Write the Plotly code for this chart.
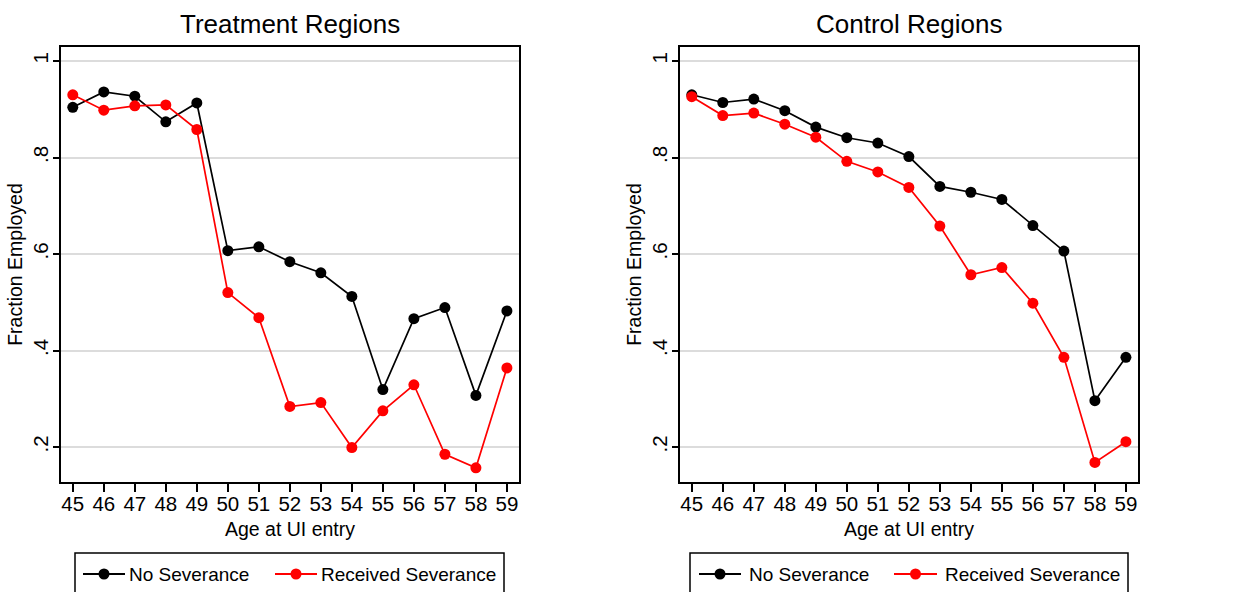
import plotly.graph_objects as go

# ---------------- data ----------------
ages = [45, 46, 47, 48, 49, 50, 51, 52, 53, 54, 55, 56, 57, 58, 59]
panel_titles = ["Treatment Regions", "Control Regions"]
series_names = ["No Severance", "Received Severance"]

treat_no_sev = [0.904, 0.936, 0.927, 0.874, 0.913, 0.607, 0.615, 0.584, 0.561, 0.512,
                0.319, 0.466, 0.489, 0.307, 0.482]
treat_sev = [0.930, 0.898, 0.907, 0.909, 0.858, 0.520, 0.468, 0.284, 0.292, 0.199,
             0.275, 0.329, 0.185, 0.157, 0.364]
ctrl_no_sev = [0.930, 0.914, 0.921, 0.897, 0.863, 0.841, 0.830, 0.802, 0.740, 0.728,
               0.713, 0.659, 0.606, 0.296, 0.386]
ctrl_sev = [0.926, 0.887, 0.892, 0.869, 0.842, 0.792, 0.770, 0.738, 0.658, 0.557,
            0.572, 0.498, 0.386, 0.168, 0.211]

y_tickvals = [0.2, 0.4, 0.6, 0.8, 1.0]
y_ticktext = [".2", ".4", ".6", ".8", "1"]
x_title = "Age at UI entry"
y_title = "Fraction Employed"

colors = ["#000000", "#ff0000"]

# ---------------- figure ----------------
W, H = 1241, 592
FONT = "Liberation Sans, Arial, Helvetica, sans-serif"
TICK_SIZE = 20.5
LABEL_SIZE = 19.5
LEGEND_SIZE = 19
TITLE_SIZE = 26

fig = go.Figure()

panels = [
    (treat_no_sev, treat_sev, "x", "y"),
    (ctrl_no_sev, ctrl_sev, "x2", "y2"),
]
for (s1, s2, xa, ya) in panels:
    for vals, name, col in [(s1, series_names[0], colors[0]), (s2, series_names[1], colors[1])]:
        fig.add_trace(go.Scatter(
            x=ages, y=vals, name=name, mode="lines+markers",
            line=dict(color=col, width=1.7),
            marker=dict(color=col, size=11),
            xaxis=xa, yaxis=ya, showlegend=False,
        ))


def px_x(p):
    return p / W


def px_y(p):
    return 1 - p / H


dom_x = [[px_x(61), px_x(519)], [px_x(680), px_x(1138)]]
dom_y = [px_y(482), px_y(47)]

axis_common_x = dict(
    range=[44.62, 59.39], tickmode="array", tickvals=ages,
    ticktext=[str(a) for a in ages],
    showgrid=False, zeroline=False,
    showline=True, linecolor="black", linewidth=1.5, mirror=True,
    ticks="outside", ticklen=8, tickwidth=1.5, tickcolor="black",
    ticklabelstandoff=-5,
    tickfont=dict(family=FONT, size=TICK_SIZE, color="black"),
    title=dict(text=x_title, font=dict(family=FONT, size=LABEL_SIZE, color="black"), standoff=8),
    automargin=False,
)
axis_common_y = dict(
    range=[0.1275, 1.029], tickmode="array", tickvals=y_tickvals, ticktext=y_ticktext,
    tickangle=-90,
    showgrid=True, gridcolor="#dcdcdc", gridwidth=1.5, zeroline=False,
    showline=True, linecolor="black", linewidth=1.5, mirror=True,
    ticks="outside", ticklen=6, tickwidth=1.5, tickcolor="black",
    ticklabelstandoff=-3,
    tickfont=dict(family=FONT, size=TICK_SIZE, color="black"),
    title=dict(text=y_title, font=dict(family=FONT, size=LABEL_SIZE, color="black"), standoff=1),
    automargin=False,
)

fig.update_layout(
    width=W, height=H,
    margin=dict(l=0, r=0, t=0, b=0),
    paper_bgcolor="white", plot_bgcolor="white",
    font=dict(family=FONT, color="black"),
    xaxis=dict(domain=dom_x[0], anchor="y", **axis_common_x),
    yaxis=dict(domain=dom_y, anchor="x", **axis_common_y),
    xaxis2=dict(domain=dom_x[1], anchor="y2", **axis_common_x),
    yaxis2=dict(domain=dom_y, anchor="x2", **axis_common_y),
    showlegend=False,
)

# panel titles
for i, t in enumerate(panel_titles):
    fig.add_annotation(
        text=t, xref="paper", yref="paper",
        x=(dom_x[i][0] + dom_x[i][1]) / 2, y=px_y(24),
        xanchor="center", yanchor="middle", showarrow=False,
        font=dict(family=FONT, size=TITLE_SIZE, color="black"),
    )

# legends (one per panel)
legend_boxes = [(75, 504), (690, 1128)]
legend_entries = [
    [(83, 125, 127), (275, 317, 319)],
    [(699, 741, 747), (894, 937, 943)],
]
LY = 574
ly = px_y(LY)
for bi, (bx0, bx1) in enumerate(legend_boxes):
    fig.add_shape(type="rect", xref="paper", yref="paper",
                  x0=px_x(bx0), x1=px_x(bx1), y0=px_y(600), y1=px_y(553),
                  line=dict(color="black", width=1.5), fillcolor="white", layer="below")
    for ei, (l0, l1, tx) in enumerate(legend_entries[bi]):
        col = colors[ei]
        fig.add_shape(type="line", xref="paper", yref="paper",
                      x0=px_x(l0), x1=px_x(l1), y0=ly, y1=ly,
                      line=dict(color=col, width=2))
        cx = (l0 + l1) / 2
        r = 5.5
        fig.add_shape(type="circle", xref="paper", yref="paper",
                      x0=px_x(cx - r), x1=px_x(cx + r), y0=px_y(LY + r), y1=px_y(LY - r),
                      line=dict(color=col, width=0), fillcolor=col)
        fig.add_annotation(
            text=series_names[ei], xref="paper", yref="paper",
            x=px_x(tx), y=ly, xanchor="left", yanchor="middle", showarrow=False,
            font=dict(family=FONT, size=LEGEND_SIZE, color="black"),
        )

fig.write_html(
    "out.html",
    config={"displayModeBar": False},
    post_script="document.body.style.margin='0px';document.body.style.overflow='hidden';",
)
